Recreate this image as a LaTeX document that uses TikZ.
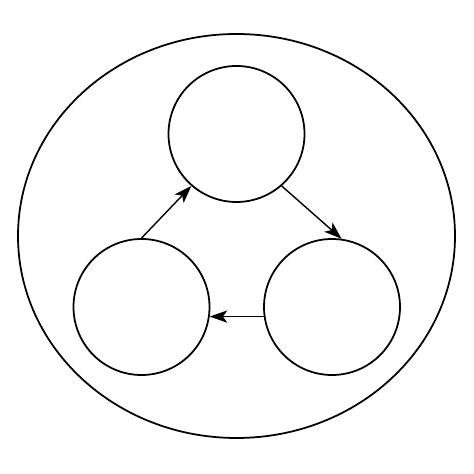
\documentclass[tikz,border=0pt]{standalone}
\usetikzlibrary{arrows.meta}

\begin{document}
\begin{tikzpicture}
            \def \radius {1.36cm}
            \def \lw {1pt}
            \useasboundingbox (0,0) rectangle (9.48,9.48);
            \draw[line width=\lw] (4.73,4.76) ellipse [x radius=4.37cm, y radius=4.04cm];
            \foreach \s/\x/\y in {top/4.73/6.80,left/2.83/3.34,right/6.64/3.34}
            {
              \node[draw, circle, line width=\lw, minimum size=2*\radius, inner sep=0pt] (\s) at (\x,\y) {};
            }
            \draw[->, >={Stealth[length=10pt,width=7pt,inset=2.5pt]}, line width=0.8pt] (left.90) -- (top.229);
            \draw[->, >={Stealth[length=10pt,width=7pt,inset=2.5pt]}, line width=0.8pt] (top.311) -- (right.82);
            \draw[->, >={Stealth[length=10pt,width=7pt,inset=2.5pt]}, line width=0.8pt] (right.188) -- (left.352);
            \end{tikzpicture}
\end{document}
